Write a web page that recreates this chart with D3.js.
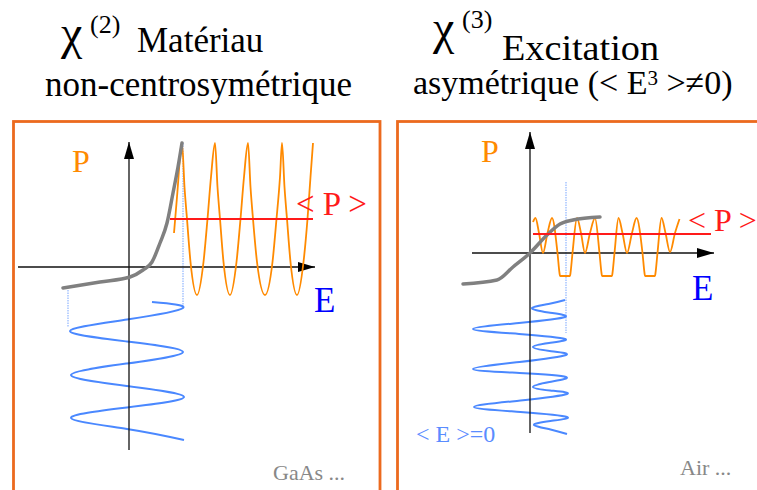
<!DOCTYPE html>
<html><head><meta charset="utf-8">
<script src="https://cdn.jsdelivr.net/npm/d3@7"></script>
<style>html,body{margin:0;padding:0;background:#fff}svg{display:block}</style>
</head><body>
<script>
// ---------------- DATA (in field units; E horizontal, P vertical, time along the free axis) ----------------
// Left panel: chi(2), non-centrosymmetric material
const leftResponse = [[-6.6,-2.1],[-2.9,-1.5],[0.1,-1.0],[1.4,-0.3],[2.3,0.5],[3.1,2.4],[3.8,4.4],[4.4,7.4],[4.9,10.0],[5.3,12.4]];
const leftP = [[4.5,3.4],[4.8,7.0],[5.3,12.4],
  [5.55,8.0],[5.8,4.8],[6.15,0.5],[6.8,-2.8],[7.45,0.5],[7.85,4.8],[8.2,9.0],[8.6,12.4],
  [8.85,8.0],[9.1,4.8],[9.45,0.5],[10.1,-2.8],[10.75,0.5],[11.15,4.8],[11.5,9.0],[11.9,12.4],
  [12.15,8.0],[12.4,4.8],[12.8,0.5],[13.6,-2.8],[14.35,0.5],[14.75,4.8],[15.1,9.0],[15.3,12.4],
  [15.55,8.0],[15.8,4.8],[16.15,0.5],[16.8,-2.8],[17.45,0.5],[17.85,4.8],[18.15,9.0],[18.4,12.4]];
const leftE = [[2.3,-3.5],[5.4,-4.1],[-0.2,-5.25],[-5.9,-6.4],[-0.2,-7.45],[5.4,-8.5],[-0.2,-9.65],
  [-5.8,-10.8],[-0.2,-11.9],[5.5,-13.0],[-0.2,-14.05],[-5.8,-15.1],[-0.2,-16.2],[5.5,-17.3]];
const leftMeanP = 4.8;
const leftMeanSpan = [4.1, 18.4];
const leftGuides = [[-6.1,-2.3,-6.0],[5.4,12.4,-4.1]];   // [E, from, to]
const leftAxisE = [-11.1, 18.6];
const leftAxisP = [-18.3, 12.5];

// Right panel: chi(3), asymmetric excitation
const rightResponse = [[-6.7,-3.1],[-3.3,-2.7],[-1.7,-1.4],[0,0],[1.7,1.8],[3.0,2.9],[4.3,3.3],[7.0,3.6]];
const rightP = [[0.3,3.1],[0.55,3.5],[0.9,2.0],[1.3,0.0],[1.75,2.0],[2.2,3.5],[2.75,0.0],[2.95,-2.0],[3.0,-2.3],[4.0,-2.3],
  [4.05,-2.0],[4.25,0.0],[4.7,3.5],[5.1,2.0],[5.5,0.0],[6.0,2.0],[6.5,3.5],[6.95,0.0],[7.15,-2.0],[7.2,-2.3],[8.2,-2.3],
  [8.25,-2.0],[8.45,0.0],[8.85,3.5],[9.25,2.0],[9.7,0.0],[10.2,2.0],[10.65,3.5],[11.25,0.0],[11.45,-2.0],[11.5,-2.3],[12.5,-2.3],
  [12.55,-2.0],[12.75,0.0],[13.15,3.5],[13.55,2.0],[14.0,0.1],[14.5,2.0],[14.95,3.4]];
const rightE = [[3.5,-4.7],[1.85,-5.1],[0.2,-5.5],[1.85,-5.95],[3.5,-6.4],[-1.1,-7.0],[-5.7,-7.6],[-1.1,-8.1],
  [3.5,-8.6],[1.9,-9.0],[0.3,-9.4],[1.95,-9.8],[3.6,-10.2],[-1.05,-10.9],[-5.7,-11.6],[-1.05,-12.0],
  [3.6,-12.4],[1.95,-12.9],[0.3,-13.4],[2.0,-13.75],[3.7,-14.1],[-0.95,-14.75],[-5.6,-15.4],[-0.95,-15.9],
  [3.7,-16.4],[2.05,-16.8],[0.4,-17.2],[2.05,-17.65],[3.7,-18.1]];
const rightMeanP = 1.9;
const rightMeanSpan = [0.3, 18.1];
const rightGuides = [[3.6,7.1,-8.0]];
const rightAxisE = [-5.8, 18.4];
const rightAxisP = [-18.0, 12.1];

// ---------------- DRAWING ----------------
const W = 757, H = 490;
const FONT = "'Liberation Serif','Times New Roman',serif";
const svg = d3.select("body").append("svg").attr("width", W).attr("height", H)
  .attr("font-family", FONT);

const C = {border:"#ec6a1e", orange:"#ff8a00", gray:"#808080", red:"#ff1a1a",
  blue:"#4a88ff", blueText:"#0000ff", lightBlue:"#5a8cff", guide:"#8fb5ff", axis:"#111", note:"#888"};

const defs = svg.append("defs");
defs.append("marker").attr("id","arrow").attr("viewBox","0 0 17 10")
  .attr("refX",17).attr("refY",5).attr("markerWidth",17).attr("markerHeight",10)
  .attr("markerUnits","userSpaceOnUse").attr("orient","auto")
  .append("path").attr("d","M0,0 L17,5 L0,10 Z").attr("fill","#000");

function drawPanel(sx, sy, d) {
  const g = svg.append("g");
  const lm = d3.line().x(p=>sx(p[0])).y(p=>sy(p[1])).curve(d3.curveMonotoneX);
  const ln = d3.line().x(p=>sx(p[0])).y(p=>sy(p[1])).curve(d3.curveNatural);
  const ll = d3.line().x(p=>sx(p[0])).y(p=>sy(p[1]));
  d.guides.forEach(q => g.append("path").attr("d", ll([[q[0],q[1]],[q[0],q[2]]]))
    .attr("stroke", C.guide).attr("stroke-width",1.2).attr("stroke-dasharray","1.5,1").attr("fill","none"));
  g.append("path").attr("d", ln(d.E)).attr("fill","none").attr("stroke",C.blue).attr("stroke-width",2);
  g.append("path").attr("d", ll([[d.axisE[0],0],[d.axisE[1],0]])).attr("stroke",C.axis)
    .attr("stroke-width",1.3).attr("marker-end","url(#arrow)");
  g.append("path").attr("d", ll([[0,d.axisP[0]],[0,d.axisP[1]]])).attr("stroke",C.axis)
    .attr("stroke-width",1.3).attr("marker-end","url(#arrow)");
  g.append("path").attr("d", lm(d.P)).attr("fill","none").attr("stroke",C.orange).attr("stroke-width",1.8);
  g.append("path").attr("d", lm(d.resp)).attr("fill","none").attr("stroke",C.gray).attr("stroke-width",3.5)
    .attr("stroke-linecap","round");
  g.append("path").attr("d", ll([[d.meanSpan[0],d.mean],[d.meanSpan[1],d.mean]])).attr("stroke",C.red).attr("stroke-width",2);
  return g;
}

svg.append("rect").attr("x",13.5).attr("y",121.5).attr("width",366.5).attr("height",420)
  .attr("fill","none").attr("stroke",C.border).attr("stroke-width",2.8);
svg.append("rect").attr("x",397.5).attr("y",121.5).attr("width",420).attr("height",420)
  .attr("fill","none").attr("stroke",C.border).attr("stroke-width",2.8);

const xL = d3.scaleLinear().domain([0,10]).range([129,229]);
const yL = d3.scaleLinear().domain([0,10]).range([267,167]);
drawPanel(xL, yL, {guides:leftGuides, E:leftE, P:leftP, resp:leftResponse, mean:leftMeanP,
  meanSpan:leftMeanSpan, axisE:leftAxisE, axisP:leftAxisP});

const xR = d3.scaleLinear().domain([0,10]).range([530,630]);
const yR = d3.scaleLinear().domain([0,10]).range([253,153]);
drawPanel(xR, yR, {guides:rightGuides, E:rightE, P:rightP, resp:rightResponse, mean:rightMeanP,
  meanSpan:rightMeanSpan, axisE:rightAxisE, axisP:rightAxisP});

// ---------------- TEXT ----------------
function txt(x, y, s, size, color, extra) {
  const t = svg.append("text").attr("x",x).attr("y",y).attr("font-size",size)
    .attr("font-family", FONT).attr("fill",color||"#000").text(s);
  if (extra) Object.entries(extra).forEach(([k,v]) => t.attr(k,v));
  return t;
}
txt(61, 49, "\u03C7", 48);
txt(90, 33, "(2)", 26);
txt(137, 52, "Mat\u00E9riau", 35);
txt(45, 96, "non-centrosym\u00E9trique", 35);

txt(433, 44, "\u03C7", 48);
txt(462, 28, "(3)", 26);
txt(502, 60, "Excitation", 35, null, {textLength:157, lengthAdjust:"spacingAndGlyphs"});
const t2 = svg.append("text").attr("x",413).attr("y",94).attr("font-size",34).attr("font-family",FONT);
t2.append("tspan").text("asym\u00E9trique (< E");
t2.append("tspan").attr("font-size",21).attr("dy",-9).text("3");
t2.append("tspan").attr("dy",9).text(" >\u22600)");

txt(72, 172, "P", 32, C.orange);
txt(296, 215, "< P >", 33, C.red);
txt(314, 312, "E", 35, C.blueText);
txt(273, 480, "GaAs ...", 22, C.note);

txt(481, 162, "P", 32, C.orange);
txt(688, 231, "< P >", 32, C.red);
txt(692, 300, "E", 35, C.blueText);
txt(416, 442, "< E >=0", 24, C.lightBlue);
txt(680, 475, "Air ...", 22, C.note);
</script>
</body></html>
